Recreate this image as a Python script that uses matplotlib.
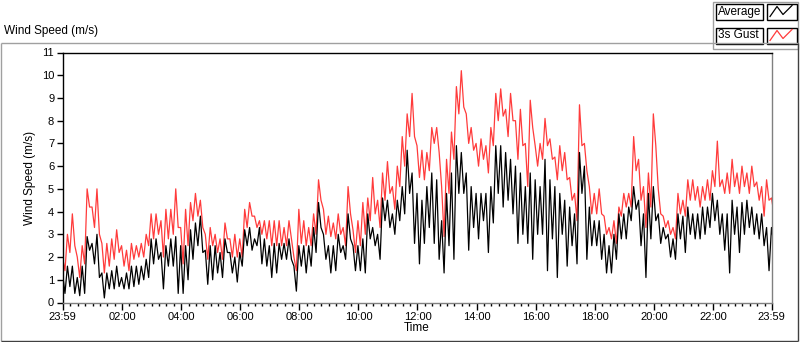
import numpy as np
import matplotlib
matplotlib.use("Agg")
import matplotlib.pyplot as plt
from matplotlib.patches import Rectangle
from matplotlib.lines import Line2D

# ---- data: per 10-minute window starting 23:59, read peak (hi) and trough (lo) ----
gust_hi = [2.0,3.0,3.9,2.0,2.5,5.0,4.2,5.0,2.6,2.6,2.8,3.2,2.5,2.3,2.6,2.5,2.6,3.0,3.9,3.9,3.6,4.1,
           4.1,5.0,3.3,4.1,4.4,4.8,4.5,3.0,3.3,3.0,2.8,3.5,2.8,3.0,2.8,4.1,4.4,3.8,3.6,3.6,3.6,3.6,3.6,3.3,
           3.6,2.0,4.1,3.6,3.3,3.9,5.4,4.1,3.8,3.5,3.9,3.3,5.1,3.2,3.6,4.4,4.6,5.5,4.5,5.7,6.2,5.1,6.0,
           7.3,8.3,9.2,6.9,6.7,6.6,7.7,7.7,5.1,6.3,7.5,9.5,10.2,8.3,7.7,7.0,7.2,6.9,7.7,9.2,9.4,8.5,9.2,
           8.0,8.5,7.0,8.9,6.9,7.0,8.1,7.2,6.4,6.9,6.6,5.5,4.8,8.7,7.0,5.1,4.8,5.0,3.8,3.3,3.6,4.2,4.8,4.8,
           7.3,6.3,5.1,5.7,8.3,5.0,3.8,3.6,3.3,4.8,4.5,5.4,5.4,5.1,5.1,5.4,5.8,7.1,5.4,5.7,6.3,5.7,6.0,5.7,6.0,5.3,5.1,5.4,4.6]
gust_lo = [1.4,2.2,2.5,1.1,1.7,4.2,3.3,3.0,1.3,1.6,1.9,2.2,1.6,1.4,1.9,2.0,2.0,2.5,2.8,3.0,2.0,2.8,
           3.0,3.3,1.7,2.5,3.6,3.8,3.3,1.9,2.5,2.2,1.9,2.8,2.0,2.0,2.0,3.3,3.8,3.3,3.0,2.8,2.5,2.5,2.5,2.5,
           2.8,1.4,2.6,2.5,2.5,3.0,4.5,3.0,2.9,2.8,3.0,2.5,3.9,2.2,2.5,3.0,3.6,3.9,3.3,4.5,4.8,4.1,5.1,
           6.0,7.3,7.3,5.5,5.4,5.8,7.0,6.6,2.9,4.8,6.3,8.3,8.6,7.0,6.7,6.0,6.3,5.7,6.9,8.0,8.2,7.3,8.0,
           6.3,6.9,5.1,7.7,6.0,6.3,6.9,6.3,5.4,5.8,5.4,4.5,3.6,6.9,5.8,3.9,3.9,3.9,3.0,2.8,2.6,3.8,4.2,4.2,
           5.8,4.5,3.3,4.2,6.9,3.9,3.3,3.0,2.8,3.9,3.8,4.5,4.5,4.2,4.5,4.5,5.1,5.1,4.8,4.8,5.1,4.8,5.1,4.8,5.1,4.5,3.8,4.5,3.9]
avg_hi = [1.3,1.6,1.6,1.1,1.6,2.9,2.6,3.0,1.3,1.3,1.4,1.6,1.1,1.3,1.6,1.6,1.6,1.9,2.8,2.8,2.2,2.5,
          2.8,2.9,2.5,2.5,3.2,3.5,3.8,2.3,2.5,2.5,2.2,2.8,2.2,2.0,2.2,3.2,3.3,2.8,3.3,2.8,2.5,2.6,2.6,2.6,
          2.8,1.6,2.5,2.5,2.5,3.3,4.4,3.0,2.5,2.5,3.0,2.5,3.9,2.5,2.5,2.8,3.9,3.3,3.0,4.6,4.5,3.9,4.5,
          5.1,6.7,5.7,4.8,4.5,5.1,5.7,5.4,3.6,4.8,5.7,6.9,6.6,5.7,5.1,4.8,4.8,4.8,5.1,6.9,6.9,6.6,6.3,
          6.0,5.7,5.1,5.7,5.4,5.1,6.3,5.4,5.1,4.8,4.5,4.2,3.9,6.6,6.0,4.2,3.6,3.6,3.0,2.5,3.0,3.9,3.9,4.2,
          5.1,4.5,3.9,4.8,5.1,3.9,3.3,3.0,2.8,3.9,3.8,4.2,3.9,3.9,4.2,4.2,4.8,4.5,3.9,3.9,4.5,4.2,4.4,4.5,4.2,3.9,3.9,3.3,3.3]
avg_lo = [0.4,0.7,0.4,0.3,0.4,2.3,1.7,1.1,0.2,0.6,0.6,0.7,0.6,0.6,0.7,0.8,1.0,1.1,1.7,1.9,0.6,1.6,
          1.6,0.4,0.4,1.0,1.9,2.5,2.2,0.8,1.0,1.3,1.1,2.2,1.3,0.9,1.6,2.5,2.3,2.5,1.7,1.6,1.1,1.3,1.9,1.9,
          1.9,0.5,1.6,1.3,1.6,2.2,3.3,1.9,1.3,1.4,2.2,1.9,2.8,1.4,1.4,1.3,2.8,2.5,1.9,3.6,3.3,3.0,3.6,
          3.9,4.8,2.6,1.7,2.6,3.3,2.6,1.9,1.3,2.5,1.9,4.8,4.8,2.3,3.3,2.8,3.6,2.2,3.5,4.8,4.2,4.5,3.9,
          2.6,3.0,2.6,1.9,3.0,3.0,1.4,2.8,1.1,3.0,1.6,2.5,1.7,4.8,1.9,2.5,2.5,1.9,1.3,1.3,1.9,2.8,2.8,3.6,
          4.1,2.5,1.1,2.8,3.6,2.6,2.8,2.0,1.9,2.8,2.2,3.0,2.8,2.8,3.0,3.3,3.6,3.0,2.3,1.3,3.0,2.2,3.0,3.3,3.0,2.8,2.5,1.4,2.5]
tick_labels = ["23:59","02:00","04:00","06:00","08:00","10:00","12:00",
               "14:00","16:00","18:00","20:00","22:00","23:59"]
tick_minutes = [0,121,241,361,481,601,721,841,961,1081,1201,1321,1440]
window_minutes = 10

def interleave(hi, lo):
    out = np.empty(2 * len(hi))
    out[0::2] = hi
    out[1::2] = lo
    return out

gust = interleave(gust_hi, gust_lo)
average = interleave(avg_hi, avg_lo)
t = np.arange(len(gust)) * (window_minutes / 2)

W, H = 800, 342
plt.rcParams['font.family'] = ['Liberation Sans', 'DejaVu Sans']
fig = plt.figure(figsize=(W/100, H/100), dpi=100)
fig.patch.set_facecolor('white')

def fx(x): return x / W
def fy(y): return 1 - y / H

def fline(x0, y0, x1, y1, color, lw=1.0):
    fig.add_artist(Line2D([fx(x0), fx(x1)], [fy(y0), fy(y1)], color=color, lw=lw,
                          transform=fig.transFigure, solid_capstyle='butt'))
fline(0.5, 42.5, 797.5, 42.5, '#a0a0a0')
fline(0.5, 42.5, 0.5, 340.5, '#a0a0a0')
fline(0.5, 340.5, 797.5, 340.5, '#404040')
fline(797.5, 42.5, 797.5, 340.5, '#404040')

fig.text(fx(4), fy(31), "Wind Speed (m/s)", fontsize=8.5, va='center', ha='left', color='#000000')

ax = fig.add_axes([fx(62.5), fy(302.5), fx(771.5 - 62.5), (302.5 - 52.5) / H])
ax.plot(t, gust, color='#ff3b3b', lw=0.9)
ax.plot(t, average, color='#000000', lw=0.9)
ax.set_xlim(0, 1440)
ax.set_ylim(0, 11)
ax.set_yticks(range(0, 12))
ax.set_xticks(tick_minutes)
ax.set_xticklabels(tick_labels)
minors = [m for m in range(1, 1440, 15) if all(abs(m - k) > 5 for k in tick_minutes)]
ax.set_xticks(minors, minor=True)
ax.tick_params(axis='both', labelsize=8, colors='#000000', direction='out')
ax.tick_params(axis='y', length=4, width=1, pad=2)
ax.tick_params(axis='x', which='major', length=5, width=1, pad=2)
ax.tick_params(axis='x', which='minor', length=2.5, width=1)
for s in ['left', 'top']:
    ax.spines[s].set_color('#000000')
for s in ['right', 'bottom']:
    ax.spines[s].set_color('#808080')
for s in ax.spines.values():
    s.set_linewidth(1.0)
ax.set_xlabel("Time", fontsize=8.5, labelpad=0)
ax.set_ylabel("Wind Speed (m/s)", fontsize=8.5, labelpad=4)

# legend panel
fig.add_artist(Rectangle((fx(712.5), fy(48.5)), fx(85), 46/H, transform=fig.transFigure,
                         facecolor='white', edgecolor='#a0a0a0', lw=1))
rows = [("Average", '#000000', 11.5), ("3s Gust", '#ff3b3b', 35.5)]
for label, col, yc in rows:
    fig.add_artist(Rectangle((fx(715.5), fy(yc + 8)), fx(47), 16/H, transform=fig.transFigure,
                             facecolor='white', edgecolor='#000000', lw=1))
    fig.text(fx(718), fy(yc), label, fontsize=8.5, va='center', ha='left', color='#000000')
    fig.add_artist(Rectangle((fx(766.5), fy(yc + 8)), fx(30), 16/H, transform=fig.transFigure,
                             facecolor='white', edgecolor='#000000', lw=1))
    xs = [770, 777, 783, 792]
    ys = [yc + 5, yc - 5, yc + 3, yc - 6]
    fig.add_artist(Line2D([fx(v) for v in xs], [fy(v) for v in ys], color=col, lw=0.9,
                          transform=fig.transFigure))

fig.savefig("out.png", dpi=100, facecolor='white')
